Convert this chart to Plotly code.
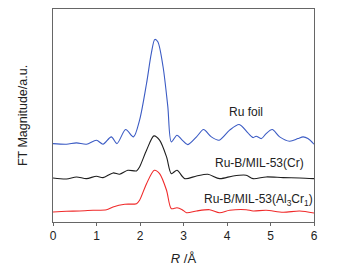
import plotly.graph_objects as go

# Ru foil (blue)
r_foil = [0.00, 0.31, 0.54, 0.77, 1.00, 1.15, 1.34, 1.47, 1.67, 1.85, 1.99, 2.15, 2.26, 2.34, 2.41,
          2.53, 2.64, 2.72, 2.85, 2.97, 3.10, 3.30, 3.46, 3.64, 3.82, 4.06, 4.28, 4.48, 4.60, 4.67,
          4.79, 4.90, 5.04, 5.21, 5.44, 5.63, 5.75, 5.86, 6.00]
y_foil = [78.3, 77.7, 79.0, 77.7, 81.7, 77.7, 85.0, 78.3, 92.3, 85.0, 101.7, 138.3, 168.3, 182.3, 180.0,
          155.0, 115.0, 80.0, 86.7, 81.7, 77.3, 85.0, 92.3, 85.0, 81.7, 91.7, 97.3, 89.0, 84.3, 85.7,
          83.3, 88.3, 92.3, 85.0, 80.7, 83.3, 85.0, 83.3, 77.7]

# Ru-B/MIL-53(Cr) (black)
r_cr = [0.00, 0.31, 0.54, 0.77, 1.00, 1.15, 1.38, 1.53, 1.72, 1.92, 1.99, 2.15, 2.32, 2.45, 2.61,
        2.72, 2.85, 3.03, 3.30, 3.56, 3.83, 4.14, 4.44, 4.60, 4.90, 5.29, 5.67, 6.00]
y_cr = [44.0, 43.0, 45.0, 43.3, 45.7, 44.3, 49.0, 47.7, 51.7, 51.0, 55.0, 71.7, 86.0, 81.7, 65.0,
        48.3, 51.7, 43.3, 46.0, 47.7, 43.3, 46.0, 46.7, 43.3, 45.0, 44.3, 44.0, 43.3]

# Ru-B/MIL-53(Al3Cr1) (red)
r_alcr = [0.00, 0.31, 0.61, 0.92, 1.23, 1.38, 1.65, 1.92, 1.99, 2.15, 2.33, 2.45, 2.61, 2.72, 2.85,
          2.97, 3.07, 3.30, 3.60, 3.83, 4.06, 4.44, 4.60, 4.90, 5.29, 5.67, 6.00]
y_alcr = [10.0, 10.7, 11.0, 11.7, 12.3, 15.0, 17.7, 18.3, 21.7, 38.3, 51.7, 48.3, 31.7, 13.3, 14.3,
          12.3, 9.3, 11.0, 12.3, 9.3, 11.7, 12.3, 11.0, 11.7, 9.7, 11.0, 9.0]

x_ticks = [0, 1, 2, 3, 4, 5, 6]

FONT = "Liberation Sans, Arial, sans-serif"

fig = go.Figure()
for r, y, c in [(r_foil, y_foil, "#3b5bc4"), (r_cr, y_cr, "#1e1e1e"), (r_alcr, y_alcr, "#f02a2a")]:
    fig.add_trace(go.Scatter(x=r, y=y, mode="lines",
                             line=dict(color=c, width=1.1, shape="spline", smoothing=0.8),
                             showlegend=False, hoverinfo="skip"))

labels = [("Ru foil", 246, 112), ("Ru-B/MIL-53(Cr)", 260, 163),
          ("Ru-B/MIL-53(Al<sub>3</sub>Cr<sub>1</sub>)", 259, 200)]
for t, px, py in labels:
    fig.add_annotation(x=(px - 53.3) / 43.5, y=221.7 - py, xref="x", yref="y", text=t,
                       showarrow=False, font=dict(family=FONT, size=12, color="#222"),
                       xanchor="center", yanchor="middle")

# page body has an 8px margin; figure is shrunk so the plot area lands where the reference has it
fig.update_layout(
    width=336, height=264,
    margin=dict(l=45, r=30, t=1, b=50, autoexpand=False),
    paper_bgcolor="white", plot_bgcolor="white",
    font=dict(family=FONT, size=12, color="#222"),
    xaxis=dict(range=[0, 6], tickvals=x_ticks, ticks="outside", ticklen=3, tickwidth=1,
               tickcolor="#666", showline=True, linecolor="#666", linewidth=1, mirror=True,
               showgrid=False, zeroline=False, tickfont=dict(size=12, color="#222"),
               title=dict(text="<i>R</i> /Å", font=dict(size=13, color="#222"), standoff=11)),
    yaxis=dict(range=[0, 212.7], showticklabels=False, ticks="", showline=True, linecolor="#666",
               linewidth=1, mirror=True, showgrid=False, zeroline=False,
               title=dict(text="FT Magnitude/a.u.", font=dict(size=12.5, color="#222"), standoff=21)),
)

fig.write_html("out.html")
